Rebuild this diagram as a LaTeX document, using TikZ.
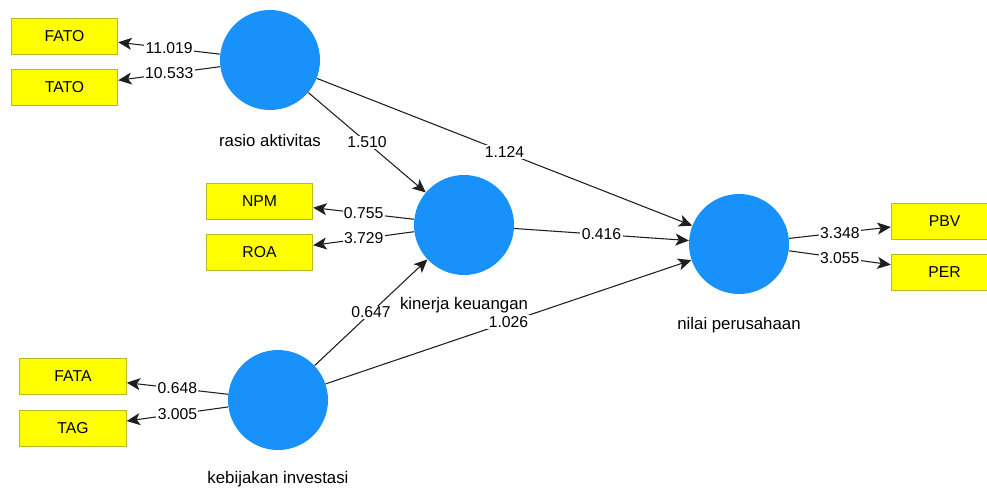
\documentclass[tikz,border=0pt]{standalone}
\usepackage{fontspec}
\setmainfont{Liberation Sans}
\usepackage{xcolor}
\usepackage{tikz}
\usetikzlibrary{arrows.meta}
\definecolor{lvblue}{RGB}{25,145,250}
\definecolor{mvyellow}{RGB}{255,255,0}
\definecolor{mvborder}{RGB}{185,185,40}

\begin{document}
\begin{tikzpicture}[x=0.75pt, y=-0.75pt,
  font=\fontsize{11.8}{14}\selectfont,
  latent/.style={circle, fill=lvblue, minimum size=75pt, inner sep=0pt},
  indicator/.style={rectangle, fill=mvyellow, draw=mvborder, line width=0.6pt,
    minimum width=80pt, minimum height=27pt, inner sep=0pt},
  relation/.style={draw=black!88, line width=0.8pt, -{Stealth[length=10pt,width=9pt,inset=2.5pt]}},
  weight/.style={fill=white, inner sep=1pt, midway},
  lvname/.style={inner sep=0pt, font=\fontsize{12.6}{14}\selectfont}]
\clip (0,0) rectangle (987,489);
\fill[white] (0,0) rectangle (987,489);

\node[latent] (rasio) at (270,60) {};
\node[latent] (kinerja) at (464,225) {};
\node[latent] (kebijakan) at (278,400) {};
\node[latent] (nilai) at (739,244) {};

\node[lvname] (rasio-name) at ([yshift=-60pt]rasio.center) {rasio aktivitas};
\node[lvname] (kinerja-name) at ([yshift=-60pt]kinerja.center) {kinerja keuangan};
\node[lvname] (kebijakan-name) at ([yshift=-59pt]kebijakan.center) {kebijakan investasi};
\node[lvname] (nilai-name) at ([yshift=-61pt]nilai.center) {nilai perusahaan};

\node[indicator] (fato) at (64.5,36) {FATO};
\node[indicator] (tato) at (64.5,87.5) {TATO};
\node[indicator] (npm) at (259.5,201.5) {NPM};
\node[indicator] (roa) at (259.5,252.5) {ROA};
\node[indicator] (fata) at (73,376.5) {FATA};
\node[indicator] (tag) at (73,428.5) {TAG};
\node[indicator] (pbv) at (944.5,221) {PBV};
\node[indicator] (per) at (944.5,272) {PER};

\draw[relation] (rasio) -- (fato) node[weight] (w-fato) {11.019};
\draw[relation] (rasio) -- (tato) node[weight] (w-tato) {10.533};
\draw[relation] (kinerja) -- (npm) node[weight] (w-npm) {0.755};
\draw[relation] (kinerja) -- (roa) node[weight] (w-roa) {3.729};
\draw[relation] (kebijakan) -- (fata) node[weight] (w-fata) {0.648};
\draw[relation] (kebijakan) -- (tag) node[weight] (w-tag) {3.005};
\draw[relation] (nilai) -- (pbv) node[weight] (w-pbv) {3.348};
\draw[relation] (nilai) -- (per) node[weight] (w-per) {3.055};

\draw[relation] (rasio) -- (kinerja) node[weight] (w-rk) {1.510};
\draw[relation] (rasio) -- (nilai) node[weight] (w-rn) {1.124};
\draw[relation] (kinerja) -- (nilai) node[weight] (w-kn) {0.416};
\draw[relation] (kebijakan) -- (kinerja) node[weight] (w-bk) {0.647};
\draw[relation] (kebijakan) -- (nilai) node[weight] (w-bn) {1.026};
\end{tikzpicture}
\end{document}
